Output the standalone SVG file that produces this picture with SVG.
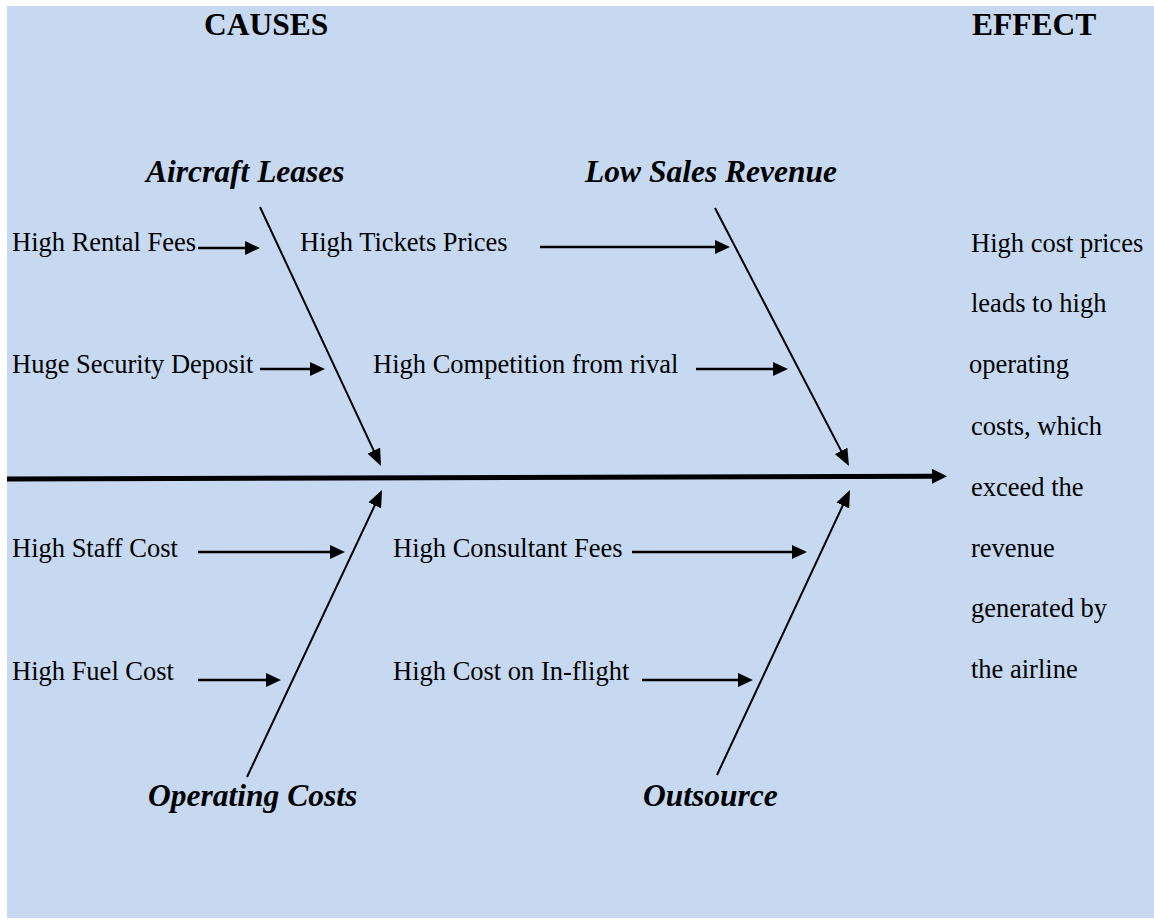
<svg xmlns="http://www.w3.org/2000/svg" width="1154" height="920" viewBox="0 0 1154 920">
  <style>
    .bg { fill: #C6D9F1; }
    .head { font-family: "Liberation Serif", "Times New Roman", serif; font-size: 31.5px; font-weight: bold; fill: #000; }
    .cat { font-family: "Liberation Serif", "Times New Roman", serif; font-size: 31.5px; font-weight: bold; font-style: italic; fill: #000; }
    .txt { font-family: "Liberation Serif", "Times New Roman", serif; font-size: 26.5px; fill: #000; }
    .spine { stroke: #000; stroke-width: 5; fill: none; marker-end: url(#spineHead); }
    .bone { stroke: #000; stroke-width: 2; fill: none; marker-end: url(#boneHead); }
    .cause { stroke: #000; stroke-width: 2.5; fill: none; marker-end: url(#causeHead); }
  </style>
  <defs>
    <marker id="spineHead" markerUnits="userSpaceOnUse" markerWidth="15" markerHeight="15" refX="5" refY="7.5" orient="auto">
      <path d="M0,0 L15,7.5 L0,15 z" fill="#000"/>
    </marker>
    <marker id="boneHead" markerUnits="userSpaceOnUse" markerWidth="17" markerHeight="14" refX="9" refY="7" orient="auto">
      <path d="M0,0 L17,7 L0,14 z" fill="#000"/>
    </marker>
    <marker id="causeHead" markerUnits="userSpaceOnUse" markerWidth="15" markerHeight="14" refX="7" refY="7" orient="auto">
      <path d="M0,0 L15,7 L0,14 z" fill="#000"/>
    </marker>
  </defs>

  <!-- background panel -->
  <rect class="bg" x="7" y="6" width="1147" height="912"/>

  <!-- column headings -->
  <g id="heading-causes"><text class="head" x="204" y="35">CAUSES</text></g>
  <g id="heading-effect"><text class="head" x="972" y="35">EFFECT</text></g>

  <!-- category labels -->
  <g id="cat-aircraft-leases"><text class="cat" x="146" y="182">Aircraft Leases</text></g>
  <g id="cat-low-sales-revenue"><text class="cat" x="585" y="182">Low Sales Revenue</text></g>
  <g id="cat-operating-costs"><text class="cat" x="148" y="806">Operating Costs</text></g>
  <g id="cat-outsource"><text class="cat" x="643" y="806">Outsource</text></g>

  <!-- individual causes -->
  <g id="cause-rental"><text class="txt" x="12" y="251">High Rental Fees</text></g>
  <g id="cause-deposit"><text class="txt" x="12" y="373">Huge Security Deposit</text></g>
  <g id="cause-tickets"><text class="txt" x="300" y="251">High Tickets Prices</text></g>
  <g id="cause-competition"><text class="txt" x="373" y="373">High Competition from rival</text></g>
  <g id="cause-staff"><text class="txt" x="12" y="557">High Staff Cost</text></g>
  <g id="cause-fuel"><text class="txt" x="12" y="680">High Fuel Cost</text></g>
  <g id="cause-consultant"><text class="txt" x="393" y="557">High Consultant Fees</text></g>
  <g id="cause-inflight"><text class="txt" x="393" y="680">High Cost on In-flight</text></g>

  <!-- effect statement -->
  <g id="effect">
    <text class="txt" x="971" y="252">High cost prices</text>
    <text class="txt" x="971" y="312">leads to high</text>
    <text class="txt" x="969" y="373">operating</text>
    <text class="txt" x="971" y="435">costs, which</text>
    <text class="txt" x="971" y="496">exceed the</text>
    <text class="txt" x="971" y="557">revenue</text>
    <text class="txt" x="971" y="617">generated by</text>
    <text class="txt" x="971" y="678">the airline</text>
  </g>

  <!-- connectors -->
  <g id="connectors">
    <line class="spine" x1="7" y1="479" x2="937" y2="476.3"/>

    <line class="bone" x1="260" y1="207" x2="377.6" y2="458.8"/>
    <line class="bone" x1="715" y1="208" x2="845.3" y2="458.9"/>
    <line class="bone" x1="247" y1="777" x2="378.6" y2="497.2"/>
    <line class="bone" x1="717" y1="775" x2="846.6" y2="497.3"/>

    <line class="cause" x1="198" y1="248" x2="252" y2="248"/>
    <line class="cause" x1="260" y1="369" x2="317" y2="369"/>
    <line class="cause" x1="540" y1="247" x2="722" y2="247"/>
    <line class="cause" x1="696" y1="369" x2="780" y2="369"/>
    <line class="cause" x1="198" y1="552" x2="337" y2="552"/>
    <line class="cause" x1="198" y1="680" x2="273" y2="680"/>
    <line class="cause" x1="632" y1="552" x2="799" y2="552"/>
    <line class="cause" x1="642" y1="680" x2="745" y2="680"/>
  </g>
</svg>
